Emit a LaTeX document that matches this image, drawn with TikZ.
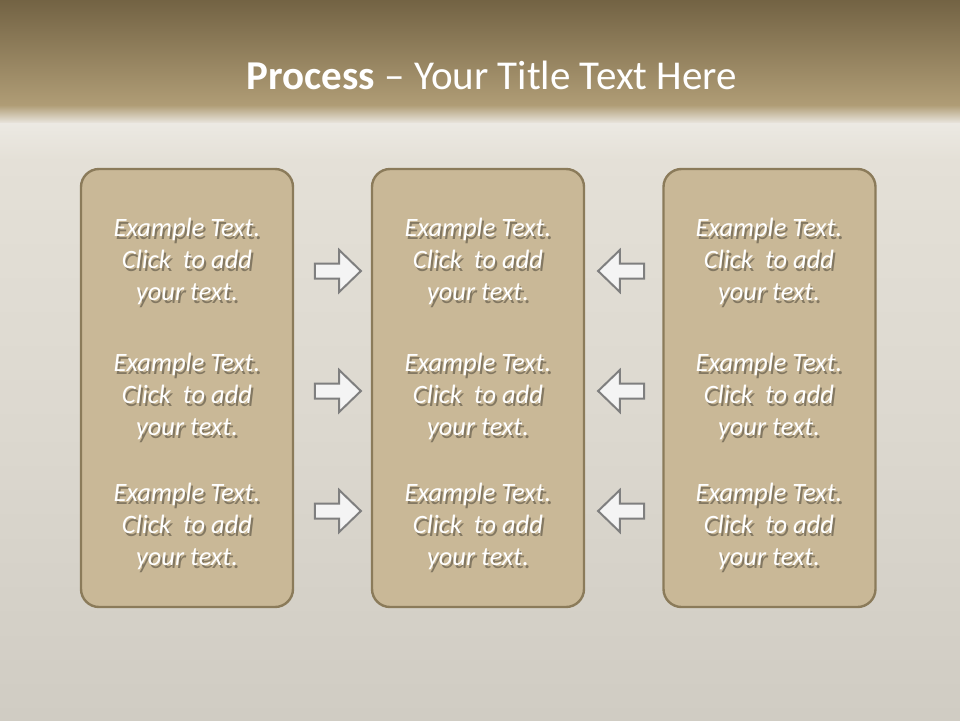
\documentclass[tikz,border=0pt]{standalone}
\usepackage{fontspec}
\setmainfont{Carlito}
\usetikzlibrary{shapes.arrows,positioning}
\definecolor{headtop}{HTML}{736344}
\definecolor{headbot}{HTML}{B09D76}
\definecolor{paper}{HTML}{E4E0D7}
\definecolor{papermid}{HTML}{DCD8CF}
\definecolor{paperlow}{HTML}{D0CCC3}
\definecolor{boxfill}{HTML}{C9B897}
\definecolor{boxline}{HTML}{8B7B5A}
\definecolor{shadowcol}{HTML}{837862}
\definecolor{arrowfill}{HTML}{F4F4F4}
\definecolor{arrowline}{HTML}{7F7F7F}
% one line of text with its shadow
\newcommand{\shline}[1]{\leavevmode\rlap{\hspace{2pt}\raisebox{-2.2pt}{\color{shadowcol}#1}}#1}
\newcommand{\slidetext}{\shline{Example Text.}\\\shline{Click\ \ to add}\\\shline{your text.}}

\begin{document}
\begin{tikzpicture}[x=1pt, y=-1pt,
    panel/.style={draw=boxline, line width=2.4pt, fill=boxfill, rounded corners=18pt,
      minimum width=212pt, minimum height=438pt, inner sep=0pt},
    bodytext/.style={align=center, white, font=\fontsize{26.5}{32}\selectfont\itshape, inner sep=0pt},
    blockright/.style={single arrow, draw=arrowline, line width=2pt, fill=arrowfill,
      minimum height=46pt, inner sep=6.5pt, single arrow head extend=13.5pt,
      single arrow tip angle=88},
    blockleft/.style={blockright, shape border rotate=180}]
    %
    \useasboundingbox (0,0) rectangle (960,720);
    \shade[top color=headtop, bottom color=headbot] (0,0) rectangle (960,106);
    \shade[top color=headbot, bottom color=paper!70!white] (0,105) rectangle (960,124);
    \shade[top color=paper!70!white, bottom color=paper] (0,123) rectangle (960,160);
    \shade[top color=paper, bottom color=papermid] (0,159) rectangle (960,430);
    \shade[top color=papermid, bottom color=paperlow] (0,429) rectangle (960,720);

    %
    \node[white, font=\fontsize{41}{46}\selectfont] (title) at (492,75)
      {\textbf{Process} -- Your Title Text Here};

    %
    \node[panel] (L) at (187,388) {};
    \node[panel] (M) at (478,388) {};
    \node[panel] (R) at (769.5,388) {};

    %
    \node[bodytext] (L1) at (187,263) {\slidetext};
    \node[bodytext] (L2) at (187,398) {\slidetext};
    \node[bodytext] (L3) at (187,528) {\slidetext};
    \node[bodytext] (M1) at (478,263) {\slidetext};
    \node[bodytext] (M2) at (478,398) {\slidetext};
    \node[bodytext] (M3) at (478,528) {\slidetext};
    \node[bodytext] (R1) at (769,263) {\slidetext};
    \node[bodytext] (R2) at (769,398) {\slidetext};
    \node[bodytext] (R3) at (769,528) {\slidetext};

    %
    \node[blockright] (a1) at (334,271) {};
    \node[blockright] (a2) at (334,391) {};
    \node[blockright] (a3) at (334,511) {};
    \node[blockleft] (b1) at (625,271) {};
    \node[blockleft] (b2) at (625,391) {};
    \node[blockleft] (b3) at (625,511) {};

\end{tikzpicture}
\end{document}
